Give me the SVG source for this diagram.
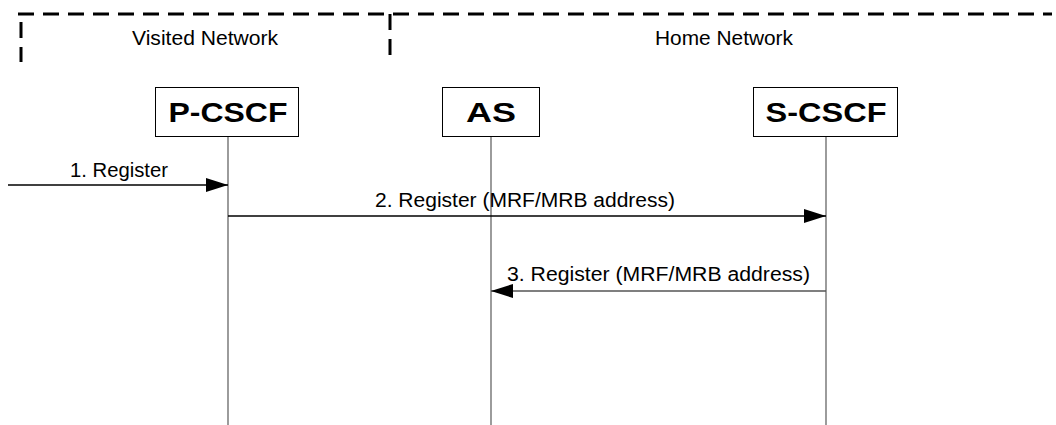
<svg xmlns="http://www.w3.org/2000/svg" width="1056" height="425" viewBox="0 0 1056 425">
  <defs>
    <marker id="arrow" viewBox="0 0 22 14" refX="22" refY="7" markerWidth="22" markerHeight="14" markerUnits="userSpaceOnUse" orient="auto">
      <path d="M0,0 L22,7 L0,14 Z" fill="#000"/>
    </marker>
    <style>
      .net { fill: none; stroke: #000; stroke-width: 3; stroke-dasharray: 16 9; }
      .label { font-family: "Liberation Sans", Arial, sans-serif; font-size: 20px; fill: #000; }
      .box { fill: #fff; stroke: #000; stroke-width: 1; }
      .name { font-family: "Liberation Sans", Arial, sans-serif; font-size: 28px; font-weight: bold; fill: #000; text-anchor: middle; }
      .life { stroke: #666; stroke-width: 1.3; }
      .msg { stroke: #000; stroke-width: 1.3; fill: none; marker-end: url(#arrow); }
    </style>
  </defs>
  <rect width="1056" height="425" fill="#fff"/>

  <!-- network boundaries -->
  <g id="networks">
    <line class="net" x1="18" y1="14" x2="1052" y2="14"/>
    <line class="net" x1="21" y1="22" x2="21" y2="62"/>
    <line class="net" x1="390" y1="14" x2="390" y2="62"/>
    <text class="label" x="132" y="45" textLength="146" lengthAdjust="spacingAndGlyphs">Visited Network</text>
    <text class="label" x="655" y="45" textLength="138" lengthAdjust="spacingAndGlyphs">Home Network</text>
  </g>

  <!-- participants -->
  <g id="pcscf">
    <line class="life" x1="228" y1="137" x2="228" y2="425"/>
    <rect class="box" x="155.5" y="87.5" width="143" height="49"/>
    <text class="name" x="228" y="122" textLength="119" lengthAdjust="spacingAndGlyphs">P-CSCF</text>
  </g>
  <g id="as">
    <line class="life" x1="491" y1="137" x2="491" y2="425"/>
    <rect class="box" x="442.5" y="87.5" width="97" height="49"/>
    <text class="name" x="491" y="122" textLength="50" lengthAdjust="spacingAndGlyphs">AS</text>
  </g>
  <g id="scscf">
    <line class="life" x1="826" y1="137" x2="826" y2="425"/>
    <rect class="box" x="753.5" y="87.5" width="144" height="49"/>
    <text class="name" x="826" y="122" textLength="121" lengthAdjust="spacingAndGlyphs">S-CSCF</text>
  </g>

  <!-- messages -->
  <g id="connectors">
    <line class="msg" x1="8" y1="185" x2="228" y2="185"/>
    <text class="label" x="70" y="177" textLength="98" lengthAdjust="spacingAndGlyphs">1. Register</text>
    <line class="msg" x1="228" y1="216" x2="826" y2="216"/>
    <text class="label" x="375" y="207" textLength="300" lengthAdjust="spacingAndGlyphs">2. Register (MRF/MRB address)</text>
    <line class="msg" x1="826" y1="291" x2="491" y2="291" style="stroke:#555"/>
    <text class="label" x="507" y="281" textLength="303" lengthAdjust="spacingAndGlyphs">3. Register (MRF/MRB address)</text>
  </g>
</svg>
